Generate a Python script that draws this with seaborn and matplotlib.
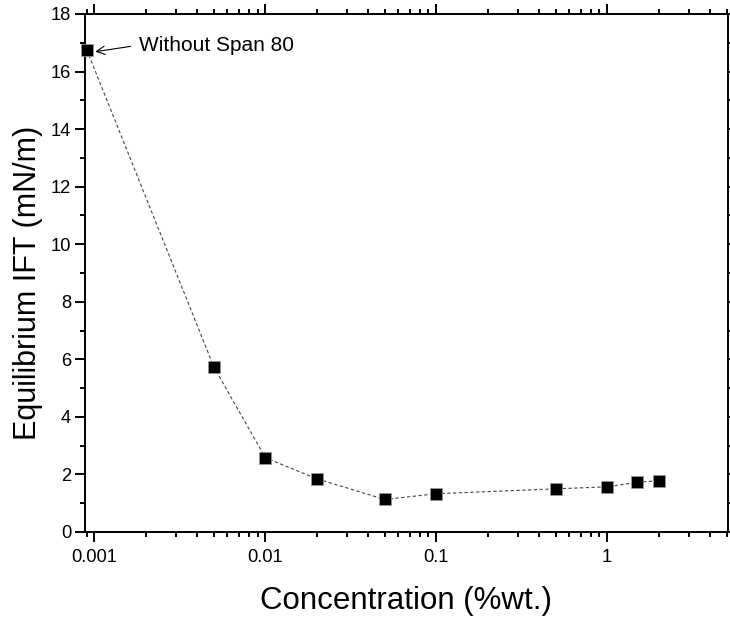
import matplotlib
matplotlib.use("Agg")
import matplotlib.pyplot as plt
import matplotlib.ticker as mticker
import seaborn as sns
import pandas as pd

concentration = [0.0009, 0.005, 0.01, 0.02, 0.05, 0.1, 0.5, 1.0, 1.5, 2.0]
ift = [16.76, 5.73, 2.58, 1.85, 1.13, 1.33, 1.50, 1.57, 1.73, 1.78]
x_ticks = [0.001, 0.01, 0.1, 1]
x_tick_labels = ["0.001", "0.01", "0.1", "1"]
y_ticks = [0, 2, 4, 6, 8, 10, 12, 14, 16, 18]
annotation_text = "Without Span 80"
x_label = "Concentration (%wt.)"
y_label = "Equilibrium IFT (mN/m)"

df = pd.DataFrame({"conc": concentration, "ift": ift})

sns.set_style("ticks")
plt.rcParams["font.family"] = ["Liberation Sans", "DejaVu Sans"]
plt.rcParams["text.color"] = "black"
plt.rcParams["axes.labelcolor"] = "black"
plt.rcParams["xtick.color"] = "black"
plt.rcParams["ytick.color"] = "black"

fig = plt.figure(figsize=(7.3, 6.23), dpi=100)
ax = fig.add_axes([85 / 730, 91 / 623, 643 / 730, 518 / 623])

sns.lineplot(data=df, x="conc", y="ift", ax=ax, color="#444444", lw=0.8,
             linestyle=(0, (3, 2.2)), sort=False)
sns.scatterplot(data=df, x="conc", y="ift", ax=ax, marker="s", s=72,
                color="black", edgecolor="#9a9a9a", linewidth=0.5, zorder=5,
                clip_on=False)

ax.set_xscale("log")
ax.set_xlim(0.00088, 5.1)
ax.set_ylim(0, 18)
ax.set_xticks(x_ticks)
ax.set_xticklabels(x_tick_labels)
ax.xaxis.set_minor_locator(mticker.LogLocator(base=10, subs=range(2, 10)))
ax.xaxis.set_minor_formatter(mticker.NullFormatter())
ax.set_yticks(y_ticks)
ax.yaxis.set_minor_locator(mticker.MultipleLocator(1))

for s in ax.spines.values():
    s.set_visible(True)
    s.set_linewidth(1.4)
    s.set_color("black")

ax.tick_params(which="major", direction="out", length=7, width=1.4,
               labelsize=13.2, pad=3, top=True, right=True,
               color="black", labelcolor="black")
ax.tick_params(which="minor", direction="out", length=3.8, width=1.4,
               top=True, right=True, color="black")
ax.tick_params(axis="x", which="major", pad=5)

ax.set_xlabel(x_label, fontsize=22.5, labelpad=15)
ax.set_ylabel(y_label, fontsize=22, labelpad=5)
ax.yaxis.set_label_coords(-0.066, 0.48)

ax.annotate(annotation_text, xy=(0.00101, 16.69), xytext=(0.00183, 16.92),
            fontsize=15, ha="left", va="center",
            arrowprops=dict(arrowstyle="->", color="black", lw=0.8,
                            shrinkA=4, shrinkB=0, relpos=(0, 0.5)))

fig.savefig("out.png", dpi=100)
